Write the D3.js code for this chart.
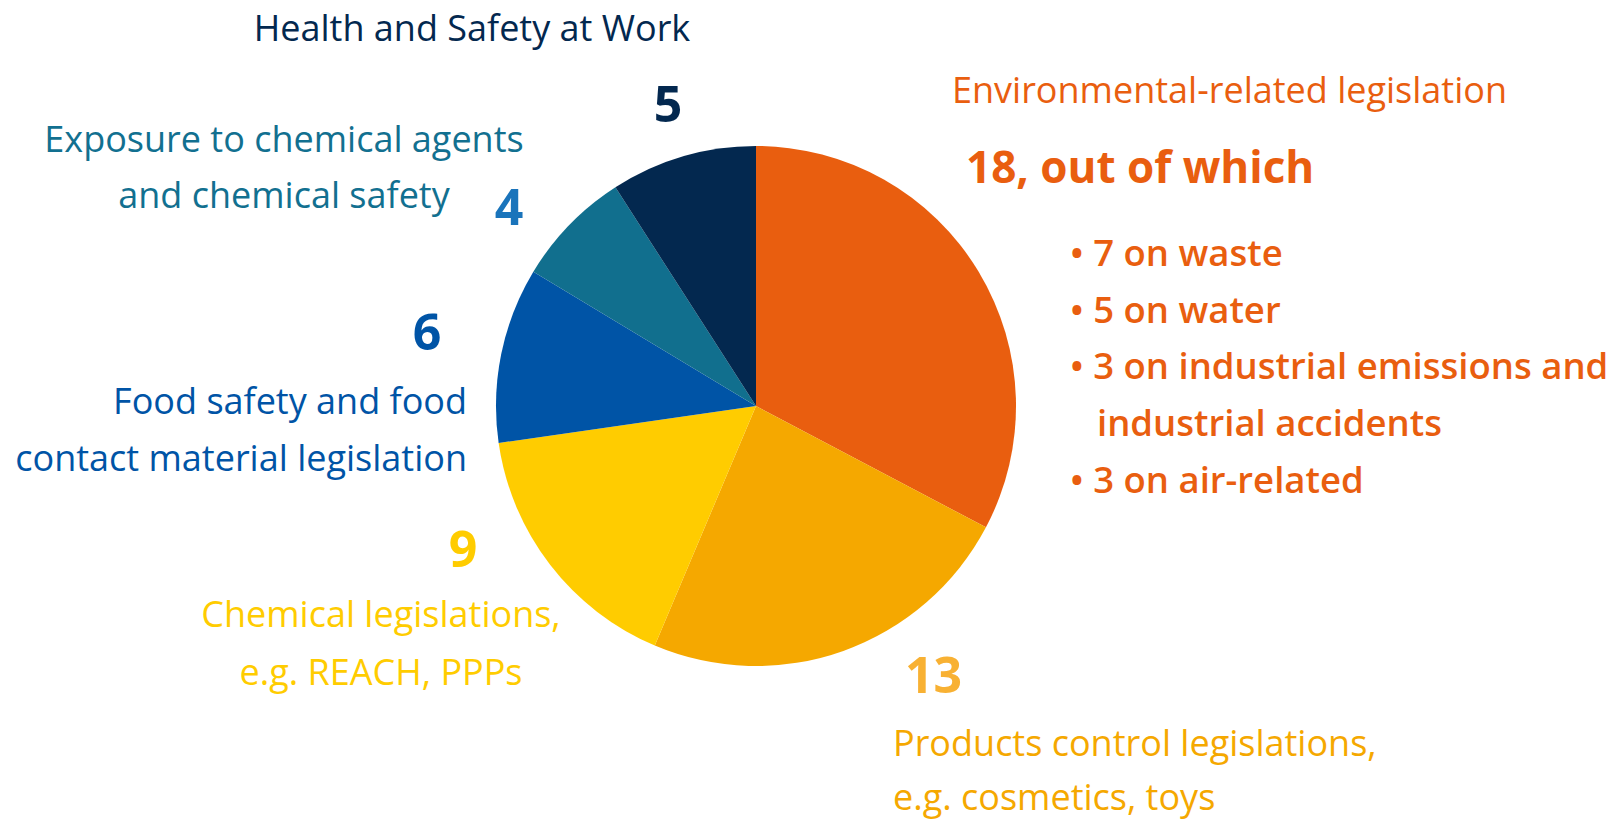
<!DOCTYPE html>
<html>
<head>
<meta charset="utf-8">
<script src="https://cdn.jsdelivr.net/npm/d3@7"></script>
<style>
  body { margin: 0; background: #fff; }
  svg text { font-family: "Open Sans", sans-serif; }
</style>
</head>
<body>
<div id="chart"></div>
<script>
// legislation counts, clockwise from 12 o'clock
let categories = ["Environmental", "Products control", "Chemical", "Food safety", "Exposure", "Health and Safety"];
let values = [18, 13, 9, 6, 4, 5];
let sliceColors = ["#e95e0f", "#f5a800", "#ffcc00", "#0054a6", "#116f8e", "#03284f"];

let envBullets = ["• 7 on waste", "• 5 on water", "• 3 on industrial emissions and", "industrial accidents", "• 3 on air-related"];

let width = 1616, height = 822;
let cx = 756, cy = 406, radius = 260;

let svg = d3.select("#chart").append("svg")
    .attr("width", width)
    .attr("height", height);

let pie = d3.pie().sort(null).value(d => d.value);
let arc = d3.arc().innerRadius(0).outerRadius(radius);

let data = categories.map((c, i) => ({ name: c, value: values[i], color: sliceColors[i] }));

svg.append("g")
    .attr("transform", "translate(" + cx + "," + cy + ")")
    .selectAll("path")
    .data(pie(data))
    .enter()
    .append("path")
    .attr("d", arc)
    .attr("fill", d => d.data.color);

// helper for text lines
function label(x, y, txt, color, size, weight, anchor) {
    return svg.append("text")
        .attr("x", x)
        .attr("y", y)
        .attr("fill", color)
        .attr("font-size", size)
        .attr("font-weight", weight || 400)
        .attr("text-anchor", anchor || "start")
        .text(txt);
}

let regSize = 36, numSize = 50;

// Health and Safety at Work
label(472, 41, "Health and Safety at Work", "#03284f", regSize, 400, "middle");
label(668, 122, values[5], "#03284f", numSize, 700, "middle");

// Exposure
label(284, 152, "Exposure to chemical agents", "#127090", regSize, 400, "middle");
label(284, 208, "and chemical safety", "#127090", regSize, 400, "middle");
label(509, 225, values[4], "#1a74bb", numSize, 700, "middle");

// Food safety
label(427, 350, values[3], "#0054a6", numSize, 700, "middle");
label(467, 414, "Food safety and food", "#0054a6", regSize, 400, "end");
label(467, 471, "contact material legislation", "#0054a6", regSize, 400, "end");

// Chemical
label(463, 567, values[2], "#ffcc00", numSize, 700, "middle");
label(381, 627, "Chemical legislations,", "#ffcc00", regSize, 400, "middle");
label(381, 685, "e.g. REACH, PPPs", "#ffcc00", regSize, 400, "middle");

// Products
label(905, 693, values[1], "#f8b133", numSize, 700, "start");
label(893, 756, "Products control legislations,", "#f5a800", regSize, 400, "start");
label(893, 810, "e.g. cosmetics, toys", "#f5a800", regSize, 400, "start");

// Environmental
label(952, 103, "Environmental-related legislation", "#e95e0f", regSize, 400, "start");
label(966, 183, values[0] + ", out of which", "#e95e0f", 44, 700, "start");

envBullets.forEach((b, i) => {
    let indent = b.startsWith("•") ? 0 : 27;
    label(1070 + indent, 266 + i * 56.7, b, "#e95e0f", 36.5, 600, "start");
});
</script>
</body>
</html>
